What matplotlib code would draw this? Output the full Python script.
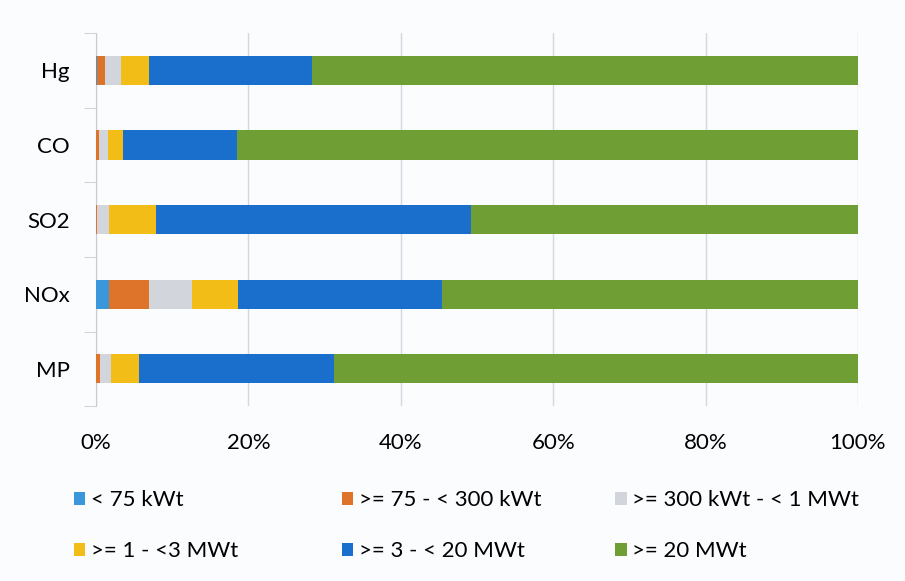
import numpy as np
import matplotlib
matplotlib.use("Agg")
import matplotlib.pyplot as plt

# Share of units by capacity class, per pollutant (percent of total)
categories = ["MP", "NOx", "SO2", "CO", "Hg"]
series_names = ["< 75 kWt", ">= 75 - < 300 kWt", ">= 300 kWt - < 1 MWt",
                ">= 1 - <3 MWt", ">= 3 - < 20 MWt", ">= 20 MWt"]
lt_75kw = [0.0, 1.7, 0.0, 0.0, 0.2]
kw75_300 = [0.5, 5.3, 0.2, 0.4, 1.0]
kw300_1mw = [1.5, 5.6, 1.5, 1.2, 2.1]
mw1_3 = [3.7, 6.0, 6.2, 2.0, 3.6]
mw3_20 = [25.6, 26.8, 41.3, 14.9, 21.5]
ge_20mw = [68.7, 54.6, 50.8, 81.5, 71.6]
x_ticks = [0, 20, 40, 60, 80, 100]
x_tick_labels = ["0%", "20%", "40%", "60%", "80%", "100%"]

colors = ["#3a97dc", "#dd7429", "#d3d5dc", "#f1bd16", "#1a6fcd", "#6f9e35"]

plt.rcParams['font.family'] = ['Lato', 'DejaVu Sans']

fig = plt.figure(figsize=(9.05, 5.81), dpi=100, facecolor="#fbfcfe")
ax = fig.add_axes([0.106, 0.301, 0.842, 0.642])
ax.set_facecolor("#fbfcfe")

values = np.array([lt_75kw, kw75_300, kw300_1mw, mw1_3, mw3_20, ge_20mw])
y = np.arange(len(categories))
left = np.zeros(len(categories))
bars = []
for vals, name, c in zip(values, series_names, colors):
    b = ax.barh(y, vals, left=left, height=0.39, color=c, label=name, zorder=3)
    bars.append(b)
    left += vals

ax.set_xlim(0, 100)
ax.set_ylim(-0.5, len(categories) - 0.5)
ax.set_xticks(x_ticks)
ax.set_xticklabels(x_tick_labels, fontsize=16)
ax.set_yticks(y)
ax.set_yticklabels(categories, fontsize=16)
ax.tick_params(axis='x', length=0, pad=19)
ax.tick_params(axis='y', length=0, pad=19)
# tick marks between categories, Excel style
ax.set_yticks(np.arange(-0.5, len(categories)), minor=True)
ax.tick_params(axis='y', which='minor', length=9, color="#c8ccd4")
ax.grid(axis='x', color="#d4d7de", linewidth=1.0, zorder=0)
for s in ["top", "right", "bottom"]:
    ax.spines[s].set_visible(False)
ax.spines["left"].set_color("#c8ccd4")

# legend laid out in two rows of three columns
col_x = [0.082, 0.378, 0.680]
for col in range(3):
    handles = [bars[col], bars[col + 3]]
    labels = [series_names[col], series_names[col + 3]]
    fig.legend(handles, labels, loc="upper left", bbox_to_anchor=(col_x[col], 0.156),
               frameon=False, fontsize=16, handlelength=0.5, handleheight=0.5,
               handletextpad=0.25, labelspacing=1.4, borderpad=0, borderaxespad=0)

fig.savefig("out.png", dpi=100, facecolor=fig.get_facecolor())
